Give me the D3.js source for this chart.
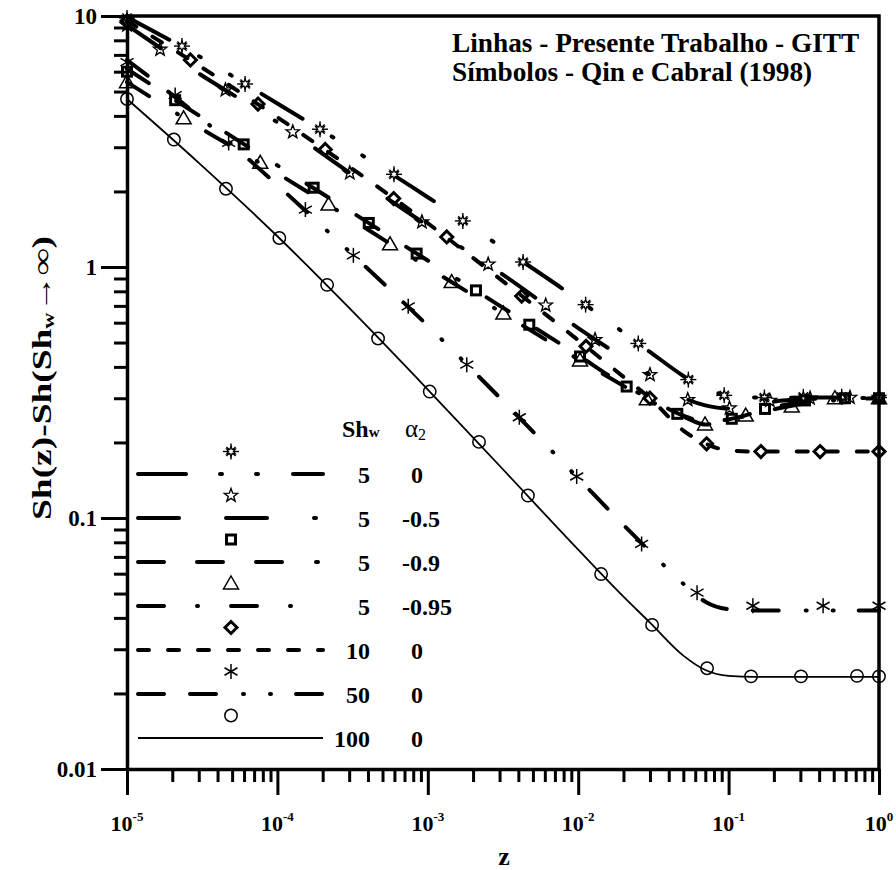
<!DOCTYPE html>
<html><head><meta charset="utf-8">
<script src="https://cdn.jsdelivr.net/npm/d3@7"></script>
<style>
body{margin:0;background:#fff}
svg{display:block}
text{font-family:"Liberation Serif","Times New Roman",serif;font-weight:bold;fill:#000}
</style>
</head><body>
<svg id="chart" width="896" height="870"></svg>
<script>
// Axial positions at which the GITT curves are tabulated
const zLine = [1e-5, 3e-5, 1e-4, 3e-4, 1e-3, 3e-3, 1e-2, 2e-2, 3e-2, 5e-2, 7e-2, 0.1, 0.15, 0.2, 0.3, 0.5, 1];

// Sh(z) - Sh(Shw -> inf), present work (GITT)
const lineSh5a0   = [9.9, 6.92, 4.48, 3.00, 1.897, 1.213, 0.741, 0.548, 0.459, 0.368, 0.325, 0.309, 0.302, 0.300, 0.302, 0.302, 0.302];
const lineSh5a05  = [9.2, 5.90, 3.77, 2.38, 1.461, 0.952, 0.571, 0.434, 0.372, 0.302, 0.281, 0.273, 0.284, 0.291, 0.297, 0.300, 0.301];
const lineSh5a09  = [6.15, 4.02, 2.54, 1.679, 1.061, 0.702, 0.445, 0.340, 0.298, 0.256, 0.242, 0.247, 0.263, 0.276, 0.289, 0.297, 0.300];
const lineSh5a095 = [5.45, 3.61, 2.36, 1.570, 0.996, 0.666, 0.429, 0.336, 0.293, 0.254, 0.236, 0.245, 0.261, 0.271, 0.284, 0.294, 0.300];
const lineSh10    = [9.55, 6.35, 3.95, 2.51, 1.494, 0.899, 0.511, 0.365, 0.300, 0.223, 0.198, 0.186, 0.184, 0.184, 0.184, 0.184, 0.184];
const lineSh50    = [6.68, 3.99, 2.12, 1.154, 0.583, 0.302, 0.144, 0.0938, 0.0736, 0.0547, 0.0464, 0.0433, 0.0428, 0.0428, 0.0428, 0.0428, 0.0428];
const lineSh100   = [4.67, 2.60, 1.326, 0.687, 0.325, 0.1615, 0.0748, 0.0486, 0.0383, 0.0283, 0.0248, 0.0235, 0.0233, 0.0233, 0.0233, 0.0233, 0.0233];

// Qin e Cabral (1998) points
const symZ_Sh5a0  = [1e-5, 2.32e-5, 6.1e-5, 1.92e-4, 5.96e-4, 1.71e-3, 4.3e-3, 1.12e-2, 2.51e-2, 5.4e-2, 9.35e-2, 0.173, 0.314, 0.565, 1.0];
const symV_Sh5a0  = [9.82, 7.59, 5.36, 3.54, 2.34, 1.526, 1.047, 0.708, 0.496, 0.356, 0.308, 0.302, 0.304, 0.304, 0.302];
const symZ_Sh5a05 = [1e-5, 1.66e-5, 4.51e-5, 1.265e-4, 3.03e-4, 9.14e-4, 2.52e-3, 6.08e-3, 1.294e-2, 3.0e-2, 5.35e-2, 0.1014, 0.188, 0.348, 0.641, 1.0];
const symV_Sh5a05 = [9.2, 7.36, 5.07, 3.45, 2.37, 1.512, 1.025, 0.704, 0.513, 0.372, 0.296, 0.274, 0.294, 0.300, 0.302, 0.302];
const symZ_Sh5a09 = [1e-5, 2.09e-5, 5.97e-5, 1.742e-4, 4.05e-4, 8.43e-4, 2.09e-3, 4.73e-3, 1.028e-2, 2.10e-2, 4.56e-2, 0.105, 0.1746, 0.322, 0.594, 1.0];
const symV_Sh5a09 = [6.0, 4.62, 3.08, 2.07, 1.498, 1.131, 0.807, 0.589, 0.440, 0.334, 0.260, 0.2485, 0.272, 0.294, 0.300, 0.300];
const symZ_Sh5a095 = [1e-5, 2.38e-5, 7.69e-5, 2.19e-4, 5.61e-4, 1.442e-3, 3.18e-3, 1.028e-2, 2.86e-2, 6.97e-2, 0.130, 0.263, 0.509, 1.0];
const symV_Sh5a095 = [5.45, 3.91, 2.60, 1.774, 1.232, 0.871, 0.652, 0.4245, 0.297, 0.236, 0.256, 0.278, 0.300, 0.300];
const symZ_Sh10   = [1e-5, 2.64e-5, 7.43e-5, 2.08e-4, 5.93e-4, 1.337e-3, 4.21e-3, 1.127e-2, 3.0e-2, 7.14e-2, 0.164, 0.406, 1.0];
const symV_Sh10   = [9.55, 6.68, 4.46, 2.94, 1.874, 1.317, 0.766, 0.483, 0.300, 0.1975, 0.184, 0.184, 0.184];
const symZ_Sh50   = [1e-5, 2.09e-5, 4.74e-5, 1.535e-4, 3.2e-4, 7.41e-4, 1.816e-3, 4.06e-3, 9.77e-3, 2.64e-2, 6.17e-2, 0.145, 0.425, 1.0];
const symV_Sh50   = [6.55, 4.84, 3.12, 1.694, 1.113, 0.697, 0.408, 0.252, 0.1463, 0.0788, 0.0504, 0.0447, 0.0447, 0.0447];
const symZ_Sh100  = [1e-5, 2.05e-5, 4.55e-5, 1.03e-4, 2.14e-4, 4.67e-4, 1.03e-3, 2.19e-3, 4.63e-3, 1.42e-2, 3.10e-2, 7.19e-2, 0.141, 0.303, 0.714, 1.0];
const symV_Sh100  = [4.67, 3.22, 2.05, 1.305, 0.849, 0.519, 0.319, 0.201, 0.1229, 0.0598, 0.0375, 0.0252, 0.0234, 0.0234, 0.0235, 0.0234];

// Legend columns
const legendShw   = ["5", "5", "5", "5", "10", "50", "100"];
const legendAlpha = ["0", "-0.5", "-0.9", "-0.95", "0", "0", "0"];

// Axis ticks
const xMajor = [1e-5, 1e-4, 1e-3, 1e-2, 1e-1, 1];
const xExp   = ["-5", "-4", "-3", "-2", "-1", "0"];
const yMajor = [0.01, 0.1, 1, 10];
const yLabels = ["0.01", "0.1", "1", "10"];

const series = [
  {line: lineSh5a0,   sz: symZ_Sh5a0,   sv: symV_Sh5a0,   dash: "48,34,2,34,2,35",             sym: "burst",    w: 4},
  {line: lineSh5a05,  sz: symZ_Sh5a05,  sv: symV_Sh5a05,  dash: "41,47,41,47,2,47",            sym: "star",     w: 4},
  {line: lineSh5a09,  sz: symZ_Sh5a09,  sv: symV_Sh5a09,  dash: "26,33,26,33,26,34,2,33",      sym: "square",   w: 4},
  {line: lineSh5a095, sz: symZ_Sh5a095, sv: symV_Sh5a095, dash: "26,33,1,33",                  sym: "triangle", w: 4},
  {line: lineSh10,    sz: symZ_Sh10,    sv: symV_Sh10,    dash: "11,19",                       sym: "diamond",  w: 4},
  {line: lineSh50,    sz: symZ_Sh50,    sv: symV_Sh50,    dash: "26,26,26,27,1,26,1,25",       sym: "asterisk", w: 4},
  {line: lineSh100,   sz: symZ_Sh100,   sv: symV_Sh100,   dash: null,                          sym: "circle",   w: 1.8}
];

const L = 127, R = 879, T = 16, B = 769;
const svg = d3.select("#chart");
const x = d3.scaleLog().domain([1e-5, 1]).range([L, R]);
const y = d3.scaleLog().domain([0.01, 10]).range([B, T]);

// ---- curves ----
const lineGen = d3.line().x(d => x(d[0])).y(d => y(d[1])).curve(d3.curveMonotoneX);
const gLines = svg.append("g");
series.forEach(s => {
  gLines.append("path")
    .datum(zLine.map((z, i) => [z, s.line[i]]))
    .attr("d", lineGen)
    .attr("fill", "none")
    .attr("stroke", "#000")
    .attr("stroke-width", s.w)
    .attr("stroke-linecap", s.dash ? "round" : "butt")
    .attr("stroke-linejoin", "round")
    .attr("stroke-dasharray", s.dash);
});

// ---- markers ----
function drawSymbol(g, kind) {
  const st = (sel, w) => sel.attr("fill", "none").attr("stroke", "#000").attr("stroke-width", w);
  if (kind === "circle") {
    st(g.append("circle").attr("r", 6.2), 1.5);
  } else if (kind === "star") {
    const pts = d3.range(10).map(i => {
      const r = i % 2 ? 2.9 : 7, a = -Math.PI / 2 + i * Math.PI / 5;
      return [r * Math.cos(a), r * Math.sin(a)];
    });
    st(g.append("path").attr("d", "M" + pts.join("L") + "Z"), 1.4);
  } else if (kind === "square") {
    st(g.append("rect").attr("x", -4.5).attr("y", -4.5).attr("width", 9).attr("height", 9), 3);
  } else if (kind === "diamond") {
    st(g.append("path").attr("d", "M0,-6L6,0L0,6L-6,0Z"), 3);
  } else if (kind === "triangle") {
    st(g.append("path").attr("d", "M0,-7.5L7.5,5.5L-7.5,5.5Z"), 1.5);
  } else if (kind === "asterisk") {
    [90, 30, 150].forEach(a => {
      const c = Math.cos(a * Math.PI / 180) * 7.5, s = Math.sin(a * Math.PI / 180) * 7.5;
      st(g.append("line").attr("x1", -c).attr("y1", -s).attr("x2", c).attr("y2", s), 1.5);
    });
  } else if (kind === "burst") {
    [0, 45, 90, 135].forEach(a => {
      const len = a % 90 ? 6.5 : 8;
      const c = Math.cos(a * Math.PI / 180) * len, s = Math.sin(a * Math.PI / 180) * len;
      st(g.append("line").attr("x1", -c).attr("y1", -s).attr("x2", c).attr("y2", s), 1.4);
    });
    const pts = d3.range(12).map(i => {
      const r = i % 2 ? 2.4 : 5, a = -Math.PI / 2 + i * Math.PI / 6;
      return [r * Math.cos(a), r * Math.sin(a)];
    });
    g.append("path").attr("d", "M" + pts.join("L") + "Z").attr("fill", "#fff").attr("stroke", "#000").attr("stroke-width", 1.3);
  }
}

const gSym = svg.append("g");
series.forEach(s => {
  s.sz.forEach((z, i) => {
    drawSymbol(gSym.append("g").attr("transform", `translate(${x(z)},${y(s.sv[i])})`), s.sym);
  });
});

// ---- axes ----
const xMinor = [];
for (let d = -5; d < 0; d++) for (let k = 2; k <= 9; k++) xMinor.push(k * Math.pow(10, d));
const yMinor = [];
for (let d = -2; d < 1; d++) for (let k = 2; k <= 9; k++) yMinor.push(k * Math.pow(10, d));

function styleAxis(g, keepDomain) {
  g.selectAll(".tick line").attr("stroke", "#000").attr("stroke-width", 3);
  g.selectAll(".tick text").remove();
  if (keepDomain) g.select(".domain").attr("stroke", "#000").attr("stroke-width", 3.5);
  else g.select(".domain").remove();
}
svg.append("g").attr("transform", `translate(0,${B})`)
  .call(d3.axisBottom(x).tickValues(xMinor).tickSize(13).tickSizeOuter(0).tickFormat(""))
  .call(g => styleAxis(g, true));
svg.append("g").attr("transform", `translate(0,${B})`)
  .call(d3.axisBottom(x).tickValues(xMajor).tickSize(26).tickSizeOuter(0).tickFormat(""))
  .call(g => styleAxis(g, false));
svg.append("g").attr("transform", `translate(${L},0)`)
  .call(d3.axisLeft(y).tickValues(yMinor).tickSize(13).tickSizeOuter(0).tickFormat(""))
  .call(g => styleAxis(g, true));
svg.append("g").attr("transform", `translate(${L},0)`)
  .call(d3.axisLeft(y).tickValues(yMajor).tickSize(26).tickSizeOuter(0).tickFormat(""))
  .call(g => styleAxis(g, false));

// frame: top and right
svg.append("path").attr("d", `M${L},${T}H${R}V${B}`).attr("fill", "none")
  .attr("stroke", "#000").attr("stroke-width", 3.5).attr("stroke-linecap", "square");

// tick labels
xMajor.forEach((v, i) => {
  const t = svg.append("text").attr("x", x(v)).attr("y", 831).attr("text-anchor", "middle").attr("font-size", 22);
  t.append("tspan").text("10");
  t.append("tspan").attr("font-size", 13).attr("dy", -10).text(xExp[i]);
});
yMajor.forEach((v, i) => {
  svg.append("text").attr("x", 97).attr("y", y(v)).attr("dy", "0.35em")
    .attr("text-anchor", "end").attr("font-size", 23).text(yLabels[i]);
});

// axis titles
svg.append("text").attr("x", 504).attr("y", 865).attr("text-anchor", "middle").attr("font-size", 26).text("z");
const yt = svg.append("text").attr("transform", "translate(51,378) rotate(-90)")
  .attr("text-anchor", "middle").attr("font-size", 27)
  .attr("textLength", 284).attr("lengthAdjust", "spacingAndGlyphs");
yt.append("tspan").text("Sh(z)-Sh(Sh");
yt.append("tspan").attr("font-size", 16).attr("dy", 3).text("w");
yt.append("tspan").attr("dy", -3).text("\u2192\u221E)");

// note block
svg.append("text").attr("x", 452).attr("y", 52).attr("font-size", 27.3).text("Linhas - Presente Trabalho - GITT");
svg.append("text").attr("x", 452).attr("y", 81).attr("font-size", 27.3).text("S\u00EDmbolos - Qin e Cabral (1998)");

// ---- legend ----
const hdr = svg.append("text").attr("x", 342).attr("y", 437).attr("font-size", 24);
hdr.append("tspan").text("Sh");
hdr.append("tspan").attr("font-size", 15).attr("dy", 0).text("w");
const ha = svg.append("text").attr("x", 405).attr("y", 437).attr("font-size", 25).style("font-weight", "normal");
ha.append("tspan").text("\u03B1");
ha.append("tspan").attr("font-size", 16).attr("dy", 3).text("2");

series.forEach((s, i) => {
  const ly = 474 + i * 44;
  svg.append("line").attr("x1", 138).attr("x2", 323).attr("y1", ly).attr("y2", ly)
    .attr("stroke", "#000").attr("stroke-width", s.w)
    .attr("stroke-linecap", s.dash ? "round" : "butt")
    .attr("stroke-dasharray", s.dash);
  drawSymbol(svg.append("g").attr("transform", `translate(231,${ly - 22.5})`), s.sym);
  svg.append("text").attr("x", 370).attr("y", ly + 9).attr("text-anchor", "end").attr("font-size", 24).text(legendShw[i]);
  const a = legendAlpha[i];
  svg.append("text").attr("x", a === "0" ? 411 : 402).attr("y", ly + 9).attr("font-size", 24).text(a);
});
</script>
</body></html>
